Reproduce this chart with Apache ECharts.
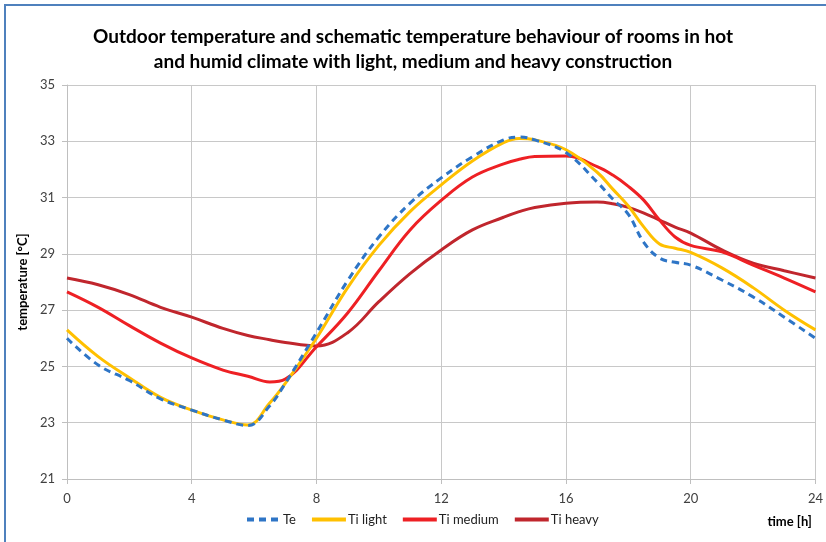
<!DOCTYPE html>
<html><head><meta charset="utf-8">
<script src="https://cdn.jsdelivr.net/npm/echarts@6/dist/echarts.min.js"></script>
<style>
html,body{margin:0;padding:0;background:#fff;}
#frame{position:absolute;left:4px;top:4px;width:830px;height:545px;border-top:2px solid #4f81bd;border-left:2px solid #4f81bd;}
#c{position:absolute;left:0;top:0;width:826px;height:542px;}
</style></head>
<body>
<div id="frame"></div>
<div id="c"></div>
<script>
const hours = [0,1,2,3,4,5,5.8,6.5,7,8,9,10,11,12,13,14,14.5,15,16,17,17.5,18,18.5,19,19.5,20,21,22,23,24];
const te = [26.0,25.05,24.5,23.85,23.45,23.1,22.9,23.6,24.4,26.2,28.05,29.6,30.8,31.7,32.45,33.05,33.15,33.05,32.6,31.55,30.95,30.4,29.4,28.85,28.7,28.6,28.07,27.47,26.75,26.0];
const tiLight = [26.3,25.35,24.6,23.9,23.45,23.1,22.92,23.7,24.4,26.0,27.8,29.3,30.5,31.45,32.3,32.95,33.1,33.05,32.7,31.9,31.3,30.7,29.95,29.35,29.2,29.05,28.5,27.8,27.0,26.3];
const tiMedium = [27.65,27.1,26.45,25.83,25.3,24.87,24.65,24.45,24.55,25.7,26.9,28.4,29.85,30.9,31.73,32.2,32.36,32.46,32.48,32.1,31.8,31.4,30.9,30.2,29.6,29.3,29.07,28.6,28.14,27.65];
const tiHeavy = [28.14,27.9,27.55,27.1,26.75,26.35,26.1,25.95,25.85,25.73,26.2,27.3,28.3,29.14,29.85,30.3,30.5,30.65,30.8,30.84,30.78,30.65,30.45,30.2,29.95,29.74,29.14,28.67,28.4,28.14];
const seriesNames = ['Te','Ti light','Ti medium','Ti heavy'];
const titleLines = 'Outdoor temperature and schematic temperature behaviour of rooms in hot\nand humid climate with light, medium and heavy construction';

const pairs = v => hours.map((h,i)=>[h,v[i]]);
const font = 'Lato, "Open Sans", sans-serif';
const chart = echarts.init(document.getElementById('c'));
function line(name, data, color, type){
  return {name, type:'line', data:pairs(data), smooth:0.4, showSymbol:false, symbol:'none',
    lineStyle:{color, width:3, type}, itemStyle:{color}};
}
chart.setOption({
  animation:false,
  textStyle:{fontFamily:font},
  title:{text:titleLines, left:'center', top:19, textStyle:{fontSize:19, fontWeight:'bold', color:'#000', lineHeight:25, fontFamily:font}},
  grid:{left:67, right:10, top:85, bottom:63},
  legend:{data:seriesNames, bottom:11, left:240, itemWidth:34, itemHeight:4, itemGap:14,
    itemStyle:{opacity:0}, lineStyle:{width:4},
    textStyle:{fontSize:13, color:'#222', fontFamily:font, padding:[0,0,0,-3]}},
  xAxis:{type:'value', min:0, max:24, interval:4, name:'time [h]', nameLocation:'end',
    nameGap:0, nameTextStyle:{fontWeight:'bold', fontSize:13, color:'#000', padding:[36,0,0,-48], align:'left', verticalAlign:'top'},
    axisLine:{lineStyle:{color:'#bfbfbf'}}, axisTick:{show:true, length:5, lineStyle:{color:'#bfbfbf'}},
    axisLabel:{fontSize:13, color:'#404040', margin:13},
    splitLine:{show:true, lineStyle:{color:'#c8c8c8'}}},
  yAxis:{type:'value', min:21, max:35, interval:2, name:'temperature [°C]', nameLocation:'middle', nameGap:31,
    nameTextStyle:{fontWeight:'bold', fontSize:13, color:'#000'},
    axisLine:{show:true, lineStyle:{color:'#bfbfbf'}}, axisTick:{show:true, length:5, lineStyle:{color:'#bfbfbf'}},
    axisLabel:{fontSize:13, color:'#404040', margin:12},
    splitLine:{show:true, lineStyle:{color:'#c8c8c8'}}},
  series:[
    line('Ti heavy', tiHeavy, '#c0262d', 'solid'),
    line('Ti medium', tiMedium, '#ee2024', 'solid'),
    line('Ti light', tiLight, '#ffc000', 'solid'),
    line('Te', te, '#2e75c6', [7,5])
  ]
});
</script>
</body></html>
